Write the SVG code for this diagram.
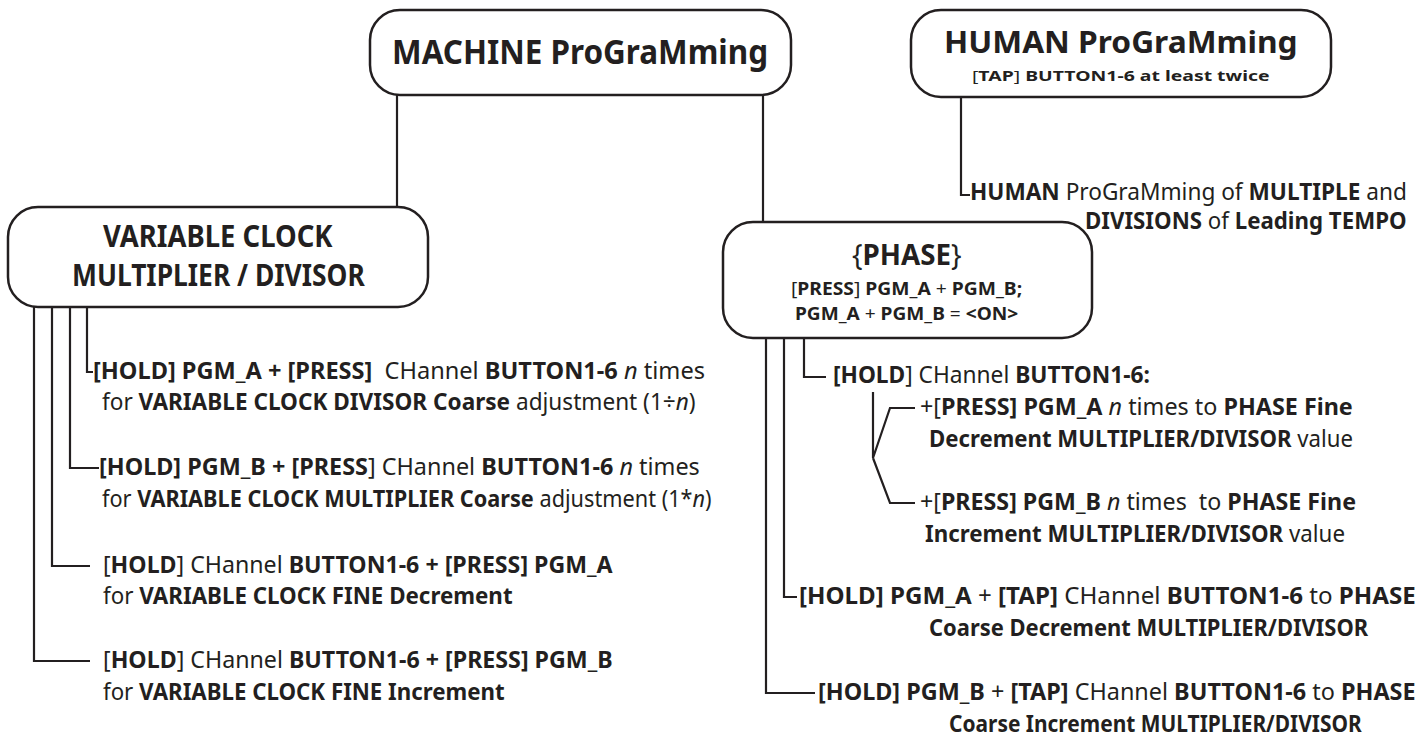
<svg xmlns="http://www.w3.org/2000/svg" width="1424" height="738" viewBox="0 0 1424 738">
<style>
text{font-family:"Noto Sans","Open Sans","Liberation Sans",sans-serif;fill:#231f20;}
.b{font-weight:bold;}
.r{font-weight:normal;}
.i{font-style:italic;font-weight:normal;}
.box{fill:#fff;stroke:#231f20;stroke-width:2.5;}
.ln{fill:none;stroke:#231f20;stroke-width:2.2;stroke-linejoin:miter;}
.t{font-size:23px;}
</style>
<rect width="1424" height="738" fill="#fff"/>
<g id="connectors">
<path class="ln" d="M397 95V207"/>
<path class="ln" d="M763 95V222"/>
<path class="ln" d="M961 97V195H970"/>
<path class="ln" d="M87 307V372H93"/>
<path class="ln" d="M70 307V468H99"/>
<path class="ln" d="M52 307V566H90"/>
<path class="ln" d="M34 307V661H90"/>
<path class="ln" d="M804 338V377H826"/>
<path class="ln" d="M784 338V597H797"/>
<path class="ln" d="M766 338V693H815"/>
<path class="ln" d="M873 392V458L890 408H915M873 458L890 503H915"/>
</g>
<g id="machine">
<rect class="box" x="370" y="10" width="421" height="85" rx="30"/>
<text class="b" transform="matrix(0.8 0 0 1 392 64)" font-size="34" textLength="470" lengthAdjust="spacingAndGlyphs">MACHINE ProGraMming</text>
</g>
<g id="human">
<rect class="box" x="911" y="10" width="420" height="87" rx="30"/>
<text class="b" transform="matrix(0.8 0 0 1 944 53)" font-size="31" textLength="442" lengthAdjust="spacingAndGlyphs">HUMAN ProGraMming</text>
<text class="b" transform="matrix(0.8 0 0 1 972 81)" font-size="15" textLength="372" lengthAdjust="spacingAndGlyphs"><tspan class="r">[</tspan>TAP<tspan class="r">]</tspan> BUTTON1-6 at least twice</text>
</g>
<g id="human-item">
<text class="t" transform="matrix(0.8 0 0 1 970 200)" textLength="546" lengthAdjust="spacingAndGlyphs"><tspan class="b">HUMAN</tspan> ProGraMming of <tspan class="b">MULTIPLE</tspan> and</text>
<text class="t" transform="matrix(0.8 0 0 1 1085 229)" textLength="402" lengthAdjust="spacingAndGlyphs"><tspan class="b">DIVISIONS</tspan> of <tspan class="b">Leading TEMPO</tspan></text>
</g>
<g id="variable">
<rect class="box" x="8" y="207" width="420" height="100" rx="30"/>
<text class="b" transform="matrix(0.8 0 0 1 103 247)" font-size="30" textLength="287" lengthAdjust="spacingAndGlyphs">VARIABLE CLOCK</text>
<text class="b" transform="matrix(0.8 0 0 1 72 286)" font-size="30" textLength="366" lengthAdjust="spacingAndGlyphs">MULTIPLIER / DIVISOR</text>
</g>
<g id="var-item1">
<text class="t" transform="matrix(0.8 0 0 1 93 379)" textLength="765" lengthAdjust="spacingAndGlyphs"><tspan class="b">[HOLD] PGM_A + [PRESS]</tspan>&#160; CHannel <tspan class="b">BUTTON1-6</tspan> <tspan class="i">n</tspan> times</text>
<text class="t" transform="matrix(0.8 0 0 1 102 410)" textLength="742" lengthAdjust="spacingAndGlyphs">for <tspan class="b">VARIABLE CLOCK DIVISOR Coarse</tspan> adjustment (1÷<tspan class="i">n</tspan>)</text>
</g>
<g id="var-item2">
<text class="t" transform="matrix(0.8 0 0 1 99 475)" textLength="751" lengthAdjust="spacingAndGlyphs"><tspan class="b">[HOLD] PGM_B + [PRESS</tspan>] CHannel <tspan class="b">BUTTON1-6</tspan> <tspan class="i">n</tspan> times</text>
<text class="t" transform="matrix(0.8 0 0 1 102 507)" textLength="762" lengthAdjust="spacingAndGlyphs">for <tspan class="b">VARIABLE CLOCK MULTIPLIER Coarse</tspan> adjustment (1*<tspan class="i">n</tspan>)</text>
</g>
<g id="var-item3">
<text class="t" transform="matrix(0.8 0 0 1 103 573)" textLength="637" lengthAdjust="spacingAndGlyphs">[<tspan class="b">HOLD</tspan>] CHannel <tspan class="b">BUTTON1-6 + [PRESS] PGM_A</tspan></text>
<text class="t" transform="matrix(0.8 0 0 1 103 604)" textLength="512" lengthAdjust="spacingAndGlyphs">for <tspan class="b">VARIABLE CLOCK FINE Decrement</tspan></text>
</g>
<g id="var-item4">
<text class="t" transform="matrix(0.8 0 0 1 103 668)" textLength="637" lengthAdjust="spacingAndGlyphs">[<tspan class="b">HOLD</tspan>] CHannel <tspan class="b">BUTTON1-6 + [PRESS] PGM_B</tspan></text>
<text class="t" transform="matrix(0.8 0 0 1 103 700)" textLength="502" lengthAdjust="spacingAndGlyphs">for <tspan class="b">VARIABLE CLOCK FINE Increment</tspan></text>
</g>
<g id="phase">
<rect class="box" x="723" y="222" width="369" height="116" rx="30"/>
<text class="b" transform="matrix(0.8 0 0 1 852 265)" font-size="29" textLength="137" lengthAdjust="spacingAndGlyphs"><tspan class="r">{</tspan>PHASE<tspan class="r">}</tspan></text>
<text class="b" transform="matrix(0.8 0 0 1 791 295)" font-size="18" textLength="289" lengthAdjust="spacingAndGlyphs"><tspan class="r">[</tspan>PRESS<tspan class="r">]</tspan> PGM_A <tspan class="r">+</tspan> PGM_B;</text>
<text class="b" transform="matrix(0.8 0 0 1 795 320)" font-size="18" textLength="279" lengthAdjust="spacingAndGlyphs">PGM_A <tspan class="r">+</tspan> PGM_B <tspan class="r">=</tspan> &lt;ON&gt;</text>
</g>
<g id="phase-hold">
<text class="t" transform="matrix(0.8 0 0 1 833 383)" textLength="396" lengthAdjust="spacingAndGlyphs"><tspan class="b">[HOLD</tspan>] CHannel <tspan class="b">BUTTON1-6:</tspan></text>
</g>
<g id="phase-fine-dec">
<text class="t" transform="matrix(0.8 0 0 1 920 415)" textLength="541" lengthAdjust="spacingAndGlyphs">+[<tspan class="b">PRESS] PGM_A</tspan> <tspan class="i">n</tspan> times to <tspan class="b">PHASE Fine</tspan></text>
<text class="t" transform="matrix(0.8 0 0 1 929 447)" textLength="530" lengthAdjust="spacingAndGlyphs"><tspan class="b">Decrement MULTIPLIER/DIVISOR</tspan> value</text>
</g>
<g id="phase-fine-inc">
<text class="t" transform="matrix(0.8 0 0 1 920 510)" textLength="545" lengthAdjust="spacingAndGlyphs">+[<tspan class="b">PRESS] PGM_B</tspan> <tspan class="i">n</tspan> times&#160; to <tspan class="b">PHASE Fine</tspan></text>
<text class="t" transform="matrix(0.8 0 0 1 925 542)" textLength="525" lengthAdjust="spacingAndGlyphs"><tspan class="b">Increment MULTIPLIER/DIVISOR</tspan> value</text>
</g>
<g id="phase-coarse-dec">
<text class="t" transform="matrix(0.8 0 0 1 799 604)" textLength="771" lengthAdjust="spacingAndGlyphs"><tspan class="b">[HOLD] PGM_A</tspan> + <tspan class="b">[TAP]</tspan> CHannel <tspan class="b">BUTTON1-6</tspan> to <tspan class="b">PHASE</tspan></text>
<text class="t b" transform="matrix(0.8 0 0 1 929 636)" textLength="549" lengthAdjust="spacingAndGlyphs">Coarse Decrement MULTIPLIER/DIVISOR</text>
</g>
<g id="phase-coarse-inc">
<text class="t" transform="matrix(0.8 0 0 1 818 700)" textLength="747" lengthAdjust="spacingAndGlyphs"><tspan class="b">[HOLD] PGM_B</tspan> + <tspan class="b">[TAP]</tspan> CHannel <tspan class="b">BUTTON1-6</tspan> to <tspan class="b">PHASE</tspan></text>
<text class="t b" transform="matrix(0.8 0 0 1 949 732)" textLength="516" lengthAdjust="spacingAndGlyphs">Coarse Increment MULTIPLIER/DIVISOR</text>
</g>
</svg>
